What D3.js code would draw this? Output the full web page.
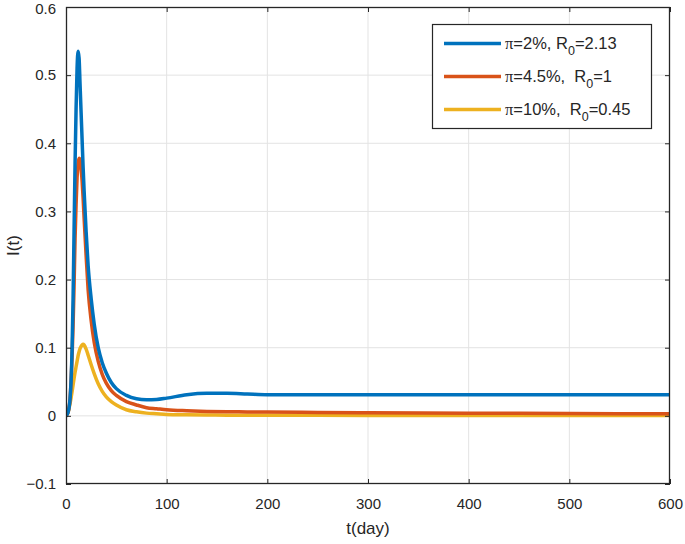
<!DOCTYPE html>
<html>
<head>
<meta charset="utf-8">
<script src="https://cdn.jsdelivr.net/npm/d3@7"></script>
<style>
  html, body { margin: 0; padding: 0; background: #fff; }
  svg { display: block; }
  text { font-family: "Liberation Sans", Arial, Helvetica, sans-serif; fill: #262626; }
</style>
</head>
<body>
<script>
// ---- data ----
const days = [0, 2, 4, 5, 6, 7, 8, 9, 10, 11, 12, 13, 14, 15, 16, 17, 18, 20, 22, 25, 28, 32, 36, 40, 45, 50, 60, 70, 80, 90, 100, 120, 140, 160, 180, 200, 250, 300, 400, 500, 600];
const seriesBlue = [0, 0.005, 0.025, 0.05, 0.095, 0.17, 0.27, 0.37, 0.45, 0.51, 0.535, 0.525, 0.485, 0.445, 0.405, 0.365, 0.33, 0.27, 0.22, 0.172, 0.135, 0.1, 0.078, 0.063, 0.049, 0.04, 0.03, 0.025, 0.0235, 0.024, 0.026, 0.031, 0.033, 0.033, 0.032, 0.031, 0.031, 0.031, 0.031, 0.031, 0.031];
const seriesRed = [0, 0.005, 0.025, 0.05, 0.085, 0.13, 0.19, 0.26, 0.31, 0.35, 0.37, 0.378, 0.375, 0.362, 0.345, 0.32, 0.29, 0.235, 0.185, 0.14, 0.108, 0.08, 0.061, 0.048, 0.037, 0.03, 0.021, 0.016, 0.012, 0.0105, 0.009, 0.0075, 0.0065, 0.006, 0.0058, 0.0055, 0.005, 0.0045, 0.004, 0.0035, 0.003];
const seriesYellow = [0, 0.005, 0.018, 0.026, 0.035, 0.045, 0.055, 0.064, 0.072, 0.08, 0.088, 0.094, 0.099, 0.102, 0.104, 0.105, 0.104, 0.098, 0.089, 0.075, 0.062, 0.047, 0.036, 0.028, 0.021, 0.016, 0.009, 0.006, 0.004, 0.003, 0.002, 0.0015, 0.0012, 0.001, 0.001, 0.001, 0.0008, 0.0007, 0.0006, 0.0005, 0.0005];
const xTicks = [0, 100, 200, 300, 400, 500, 600];
const yTicks = [-0.1, 0, 0.1, 0.2, 0.3, 0.4, 0.5, 0.6];
const legendLabels = [
  {pi: "\u03C0", pre: "=2%, R", sub: "0", post: "=2.13"},
  {pi: "\u03C0", pre: "=4.5%,  R", sub: "0", post: "=1"},
  {pi: "\u03C0", pre: "=10%,  R", sub: "0", post: "=0.45"}
];
const colors = ["#0072BD", "#D95319", "#EDB120"];

// ---- layout ----
const W = 685, H = 544;
const plot = {left: 66, right: 670, top: 7, bottom: 484};

const svg = d3.select("body").append("svg").attr("width", W).attr("height", H);

const x = d3.scaleLinear().domain([0, 600]).range([plot.left, plot.right]);
const y = d3.scaleLinear().domain([-0.1, 0.6]).range([plot.bottom, plot.top]);

// grid
const grid = svg.append("g");
grid.selectAll("line.gx").data(xTicks.slice(1, -1)).enter().append("line")
  .attr("x1", d => x(d)).attr("x2", d => x(d))
  .attr("y1", plot.top).attr("y2", plot.bottom)
  .attr("stroke", "#e3e3e3").attr("stroke-width", 1);
grid.selectAll("line.gy").data(yTicks.slice(1, -1)).enter().append("line")
  .attr("y1", d => y(d)).attr("y2", d => y(d))
  .attr("x1", plot.left).attr("x2", plot.right)
  .attr("stroke", "#e3e3e3").attr("stroke-width", 1);

// curves
const allSeries = [seriesBlue, seriesRed, seriesYellow];
const line = d3.line()
  .x((d, i) => x(days[i]))
  .y(d => y(d))
  .curve(d3.curveMonotoneX);
svg.append("clipPath").attr("id", "clip").append("rect")
  .attr("x", plot.left).attr("y", plot.top)
  .attr("width", plot.right - plot.left).attr("height", plot.bottom - plot.top);
svg.append("g").attr("clip-path", "url(#clip)")
  .selectAll("path").data(allSeries.slice().reverse()).enter().append("path")
  .attr("d", d => line(d))
  .attr("fill", "none")
  .attr("stroke", (d, i) => colors[2 - i])
  .attr("stroke-width", 3.5)
  .attr("stroke-linejoin", "round");

// axes (ticks inside, box)
const axisColor = "#262626";
const xAxisB = d3.axisBottom(x).tickValues(xTicks).tickSizeInner(-5).tickSizeOuter(0).tickPadding(14);
const xAxisT = d3.axisTop(x).tickValues(xTicks).tickSizeInner(-5).tickSizeOuter(0).tickFormat("");
const yAxisL = d3.axisLeft(y).tickValues(yTicks).tickSizeInner(-5).tickSizeOuter(0).tickPadding(10)
  .tickFormat(d => d3.format("")(Math.round(d * 10) / 10));
const yAxisR = d3.axisRight(y).tickValues(yTicks).tickSizeInner(-5).tickSizeOuter(0).tickFormat("");

function styleAxis(g) {
  g.select(".domain").remove();
  g.selectAll(".tick line").attr("stroke", axisColor);
  g.selectAll(".tick text").attr("fill", axisColor)
    .style("font-family", "'Liberation Sans', Arial, sans-serif").style("font-size", "15px");
}
svg.append("g").attr("transform", `translate(0,${plot.bottom})`).call(xAxisB).call(styleAxis);
svg.append("g").attr("transform", `translate(0,${plot.top})`).call(xAxisT).call(styleAxis);
const gy = svg.append("g").attr("transform", `translate(${plot.left},0)`).call(yAxisL).call(styleAxis);
// keep the top label inside the picture
gy.selectAll(".tick text").filter(d => d === 0.6).attr("dy", "0.42em");
svg.append("g").attr("transform", `translate(${plot.right},0)`).call(yAxisR).call(styleAxis);

svg.append("rect")
  .attr("x", plot.left + 0.5).attr("y", plot.top + 0.5)
  .attr("width", plot.right - plot.left - 1).attr("height", plot.bottom - plot.top - 1)
  .attr("fill", "none").attr("stroke", axisColor).attr("stroke-width", 1.3);

// axis labels
svg.append("text").attr("x", (plot.left + plot.right) / 2).attr("y", 534)
  .attr("text-anchor", "middle").style("font-size", "17px").text("t(day)");
svg.append("text").attr("transform", `translate(19,${(plot.top + plot.bottom) / 2}) rotate(-90)`)
  .attr("text-anchor", "middle").style("font-size", "17px").text("I(t)");

// legend
const lg = svg.append("g");
lg.append("rect").attr("x", 432.5).attr("y", 24.5).attr("width", 219).attr("height", 104)
  .attr("fill", "#fff").attr("stroke", axisColor).attr("stroke-width", 1.2);
const rowY = [43.5, 76.5, 109.5];
legendLabels.forEach((lab, i) => {
  lg.append("line").attr("x1", 444).attr("x2", 501).attr("y1", rowY[i]).attr("y2", rowY[i])
    .attr("stroke", colors[i]).attr("stroke-width", 3.5);
  const t = lg.append("text").attr("x", 505).attr("y", rowY[i] + 5.5)
    .style("font-size", "16.5px").style("white-space", "pre").attr("xml:space", "preserve");
  t.append("tspan").style("font-family", "'Liberation Serif', 'DejaVu Serif', serif").text(lab.pi);
  t.append("tspan").text(lab.pre);
  t.append("tspan").attr("dy", 6).style("font-size", "12.5px").text(lab.sub);
  t.append("tspan").attr("dy", -6).text(lab.post);
});
</script>
</body>
</html>
